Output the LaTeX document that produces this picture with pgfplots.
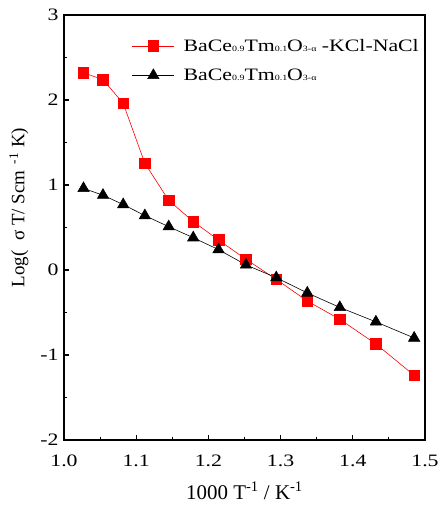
\documentclass[border=0pt]{standalone}
\usepackage{pgfplots}
\pgfplotsset{compat=1.18}
\usepackage{fontspec}
\setmainfont{Liberation Serif}
\newfontfamily\wideserif[FakeStretch=1.25]{Liberation Serif}
\newcommand{\sub}[1]{{\fontsize{8}{8}\selectfont #1}}
\begin{document}
\begin{tikzpicture}
\begin{axis}[
  name=ax,
  scale only axis,
  width=361bp, height=425bp,
  xmin=1.0, xmax=1.5, ymin=-2, ymax=3,
  xtick={1.0,1.1,1.2,1.3,1.4,1.5},
  ytick={-2,-1,0,1,2,3},
  minor xtick={1.05,1.15,1.25,1.35,1.45},
  minor ytick={-1.5,-0.5,0.5,1.5,2.5},
  xticklabel style={yshift=-11bp, /pgf/number format/.cd,fixed,fixed zerofill,precision=1},
  /pgf/number format/assume math mode=true,
  tick align=inside,
  xtick pos=bottom, ytick pos=left,
  major tick length=5bp, minor tick length=3bp,
  tick style={line width=1.2pt,black},
  axis line style={line width=1.6pt},
  ticklabel style={font=\wideserif\fontsize{17.5}{17.5}\selectfont},
  yticklabel style={xshift=-2bp},
  xlabel={1000 T\textsuperscript{-1} / K\textsuperscript{-1}},
  ylabel={Log(~~σ~T/ Scm\textsuperscript{~~-1}~K)},
  xlabel style={font=\fontsize{21}{21}\selectfont, yshift=-9bp},
  ylabel style={font=\fontsize{19}{19}\selectfont, at={(ticklabel cs:0.547)}, yshift=5bp},
  legend style={draw=none, fill=none, at={(0.188,0.948)}, anchor=north west,
    font=\wideserif\fontsize{17.5}{17.5}\selectfont, row sep=12bp, inner sep=0pt,
    /tikz/every odd column/.append style={column sep=7bp}},
  legend image code/.code={\draw[mark repeat=2,mark phase=2] plot coordinates {(0bp,0bp)(21bp,0bp)(42bp,0bp)};},
  legend cell align=left,
]
\addplot[red, line width=0.6pt, mark=square*, mark size=5.3bp, mark options={fill=red}]
coordinates {
(1.027,2.32) (1.054,2.24) (1.082,1.96) (1.112,1.255) (1.145,0.82)
(1.179,0.57) (1.214,0.353) (1.252,0.126) (1.294,-0.11) (1.337,-0.365)
(1.382,-0.58) (1.432,-0.87) (1.485,-1.24)
};
\addlegendentry{BaCe\sub{0.9}Tm\sub{0.1}O\sub{3-α} -KCl-NaCl}
\addplot[black, line width=0.6pt, mark=triangle*, mark size=6.5bp, mark options={fill=black}]
coordinates {
(1.027,0.96) (1.054,0.88) (1.082,0.77) (1.112,0.64) (1.145,0.51)
(1.179,0.38) (1.214,0.24) (1.252,0.06) (1.294,-0.09) (1.337,-0.27)
(1.382,-0.44) (1.432,-0.61) (1.485,-0.80)
};
\addlegendentry{BaCe\sub{0.9}Tm\sub{0.1}O\sub{3-α}}
\end{axis}
\pgfresetboundingbox
\path (ax.south west) ++(-64bp,-66bp) coordinate (bl);
\path (ax.north east) ++(15bp,15bp) coordinate (tr);
\path[use as bounding box] (bl) rectangle (tr);
\end{tikzpicture}
\end{document}
